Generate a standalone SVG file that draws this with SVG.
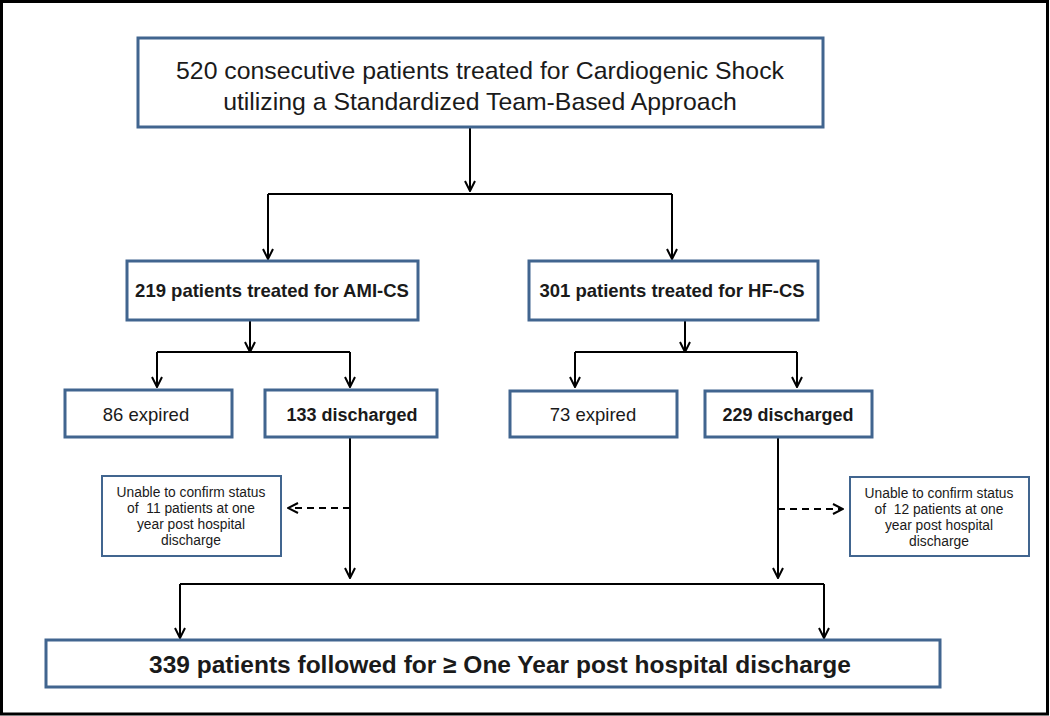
<svg xmlns="http://www.w3.org/2000/svg" width="1050" height="716" viewBox="0 0 1050 716">
<style>
.box{fill:#fff;stroke:#41658f;stroke-width:3}
.t{font-family:"Liberation Sans",Arial,sans-serif;fill:#1a1a1a;text-anchor:middle}
.b{font-weight:bold}
.c{fill:none;stroke:#000;stroke-width:2}
.d{stroke-dasharray:7 5}
</style>
<defs>
<marker id="a" viewBox="0 0 12 12" refX="11" refY="6" markerWidth="12" markerHeight="12" markerUnits="userSpaceOnUse" orient="auto">
<path d="M1,1 L11,6 L1,11" fill="none" stroke="#000" stroke-width="2"/>
</marker>
</defs>
<rect x="0" y="0" width="1050" height="716" fill="#fff"/>
<rect x="1.5" y="1.5" width="1046" height="712.5" fill="none" stroke="#000" stroke-width="3"/>
<g id="connectors">
<line class="c" x1="470" y1="127" x2="470" y2="191" marker-end="url(#a)"/>
<polyline class="c" points="268,194 672,194"/>
<line class="c" x1="268" y1="194" x2="268" y2="259" marker-end="url(#a)"/>
<line class="c" x1="672" y1="194" x2="672" y2="259" marker-end="url(#a)"/>
<line class="c" x1="250" y1="320" x2="250" y2="352" marker-end="url(#a)"/>
<polyline class="c" points="157,352 350,352"/>
<line class="c" x1="157" y1="352" x2="157" y2="387" marker-end="url(#a)"/>
<line class="c" x1="350" y1="352" x2="350" y2="387" marker-end="url(#a)"/>
<line class="c" x1="685" y1="320" x2="685" y2="352" marker-end="url(#a)"/>
<polyline class="c" points="575,352 797,352"/>
<line class="c" x1="575" y1="352" x2="575" y2="387" marker-end="url(#a)"/>
<line class="c" x1="797" y1="352" x2="797" y2="387" marker-end="url(#a)"/>
<line class="c" x1="350" y1="437" x2="350" y2="578" marker-end="url(#a)"/>
<line class="c" x1="778" y1="437" x2="778" y2="578" marker-end="url(#a)"/>
<line class="c d" x1="350" y1="508" x2="288" y2="508" marker-end="url(#a)"/>
<line class="c d" x1="778" y1="509" x2="843" y2="509" marker-end="url(#a)"/>
<polyline class="c" points="180,584 824,584"/>
<line class="c" x1="180" y1="584" x2="180" y2="638" marker-end="url(#a)"/>
<line class="c" x1="824" y1="584" x2="824" y2="638" marker-end="url(#a)"/>
</g>
<g id="n-top">
<rect class="box" x="138" y="38" width="685" height="89"/>
<text class="t" x="480" y="79" font-size="24.8">520 consecutive patients treated for Cardiogenic Shock</text>
<text class="t" x="480" y="110" font-size="24.8">utilizing a Standardized Team-Based Approach</text>
</g>
<g id="n-ami">
<rect class="box" x="127" y="261" width="291" height="59"/>
<text class="t b" x="272" y="297" font-size="18.5">219 patients treated for AMI-CS</text>
</g>
<g id="n-hf">
<rect class="box" x="529" y="261" width="289" height="59"/>
<text class="t b" x="672" y="297" font-size="18.5">301 patients treated for HF-CS</text>
</g>
<g id="n-ami-exp">
<rect class="box" x="65" y="390" width="167" height="47"/>
<text class="t" x="146" y="421" font-size="18.5">86 expired</text>
</g>
<g id="n-ami-dis">
<rect class="box" x="265" y="390" width="172" height="47"/>
<text class="t b" x="352" y="421" font-size="18">133 discharged</text>
</g>
<g id="n-hf-exp">
<rect class="box" x="510" y="391" width="167" height="46"/>
<text class="t" x="593" y="421" font-size="18.5">73 expired</text>
</g>
<g id="n-hf-dis">
<rect class="box" x="705" y="391" width="167" height="46"/>
<text class="t b" x="788" y="421" font-size="18">229 discharged</text>
</g>
<g id="n-ami-unk">
<rect class="box" x="102" y="476" width="179" height="80" style="stroke-width:2"/>
<text class="t" font-size="13.8"><tspan x="191" y="497">Unable to confirm status</tspan><tspan x="191" y="513">of&#160; 11 patients at one</tspan><tspan x="191" y="529">year post hospital</tspan><tspan x="191" y="545">discharge</tspan></text>
</g>
<g id="n-hf-unk">
<rect class="box" x="850" y="477" width="179" height="79" style="stroke-width:2"/>
<text class="t" font-size="13.8"><tspan x="939" y="498">Unable to confirm status</tspan><tspan x="939" y="514">of&#160; 12 patients at one</tspan><tspan x="939" y="530">year post hospital</tspan><tspan x="939" y="546">discharge</tspan></text>
</g>
<g id="n-bottom">
<rect class="box" x="46" y="640" width="894" height="47"/>
<text class="t b" x="500" y="673" font-size="24.5">339 patients followed for ≥ One Year post hospital discharge</text>
</g>
</svg>
